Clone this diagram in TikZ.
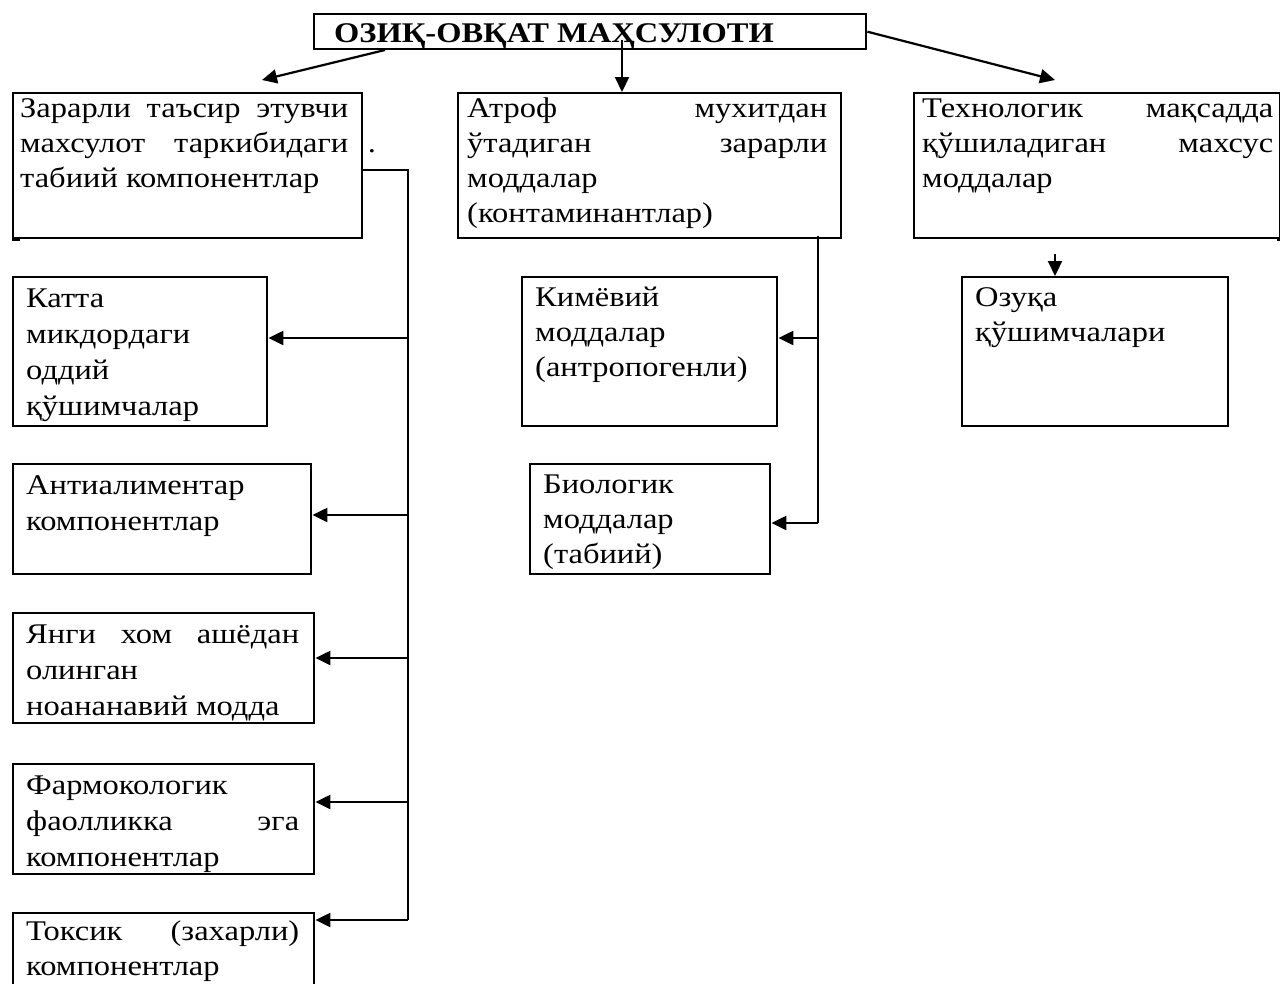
\documentclass[tikz,border=0pt]{standalone}
\usepackage{fontspec}
\setmainfont[FakeStretch=1.14]{Liberation Serif}
\usetikzlibrary{arrows.meta}
\newcommand\gp{\hskip 0pt plus 1filll\relax}
% width, height, left pad, right pad, top shift, text
\newcommand\bxt[6]{\parbox[c][#2][t]{#1}{\leftskip=#3\rightskip=#4\relax\vspace*{#5}\strut#6}}
\tikzset{
  box/.style={draw, line width=2.4pt, inner sep=0pt, anchor=north west,
    font=\fontsize{28.5}{35}\selectfont},
  tallbox/.style={box, font=\fontsize{28.5}{36}\selectfont},
  arr/.style={line width=2.2pt, -{Triangle[length=15pt,width=14pt]}},
  trunk/.style={line width=1.6pt},
}
\begin{document}
\begin{tikzpicture}[x=1pt,y=-1pt]
\useasboundingbox (0,0) rectangle (1280,983);
\clip (0,0) rectangle (1280,983);
% title
\node[box, font=\fontsize{28.5}{35}\bfseries\selectfont] (T) at (313,13)
  {\bxt{552pt}{35pt}{20pt}{0pt}{0pt}{\raisebox{-4pt}{ОЗИҚ-ОВҚАТ МАҲСУЛОТИ}}};
% top row
\node[box] (A) at (12,92) {\bxt{349pt}{145pt}{7pt}{14pt}{0pt}{Зарарли\gp таъсир\gp этувчи\\махсулот\gp таркибидаги\\табиий компонентлар}};
\node[box] (B) at (457,92) {\bxt{383pt}{145pt}{9pt}{14pt}{0pt}{Атроф\gp мухитдан\\ўтадиган\gp зарарли\\моддалар\\(контаминантлар)}};
\node[box] (C) at (913,92) {\bxt{366pt}{145pt}{8pt}{7pt}{0pt}{Технологик\gp мақсадда\\қўшиладиган\gp махсус\\моддалар}};
\node[font=\fontsize{28.5}{35}\selectfont, anchor=base] (dot) at (372,152) {.};
% left column
\node[tallbox] (D) at (12,276) {\bxt{254pt}{149pt}{13pt}{5pt}{5pt}{Катта\\микдордаги\\оддий\\қўшимчалар}};
\node[tallbox] (E) at (12,463) {\bxt{298pt}{110pt}{13pt}{10pt}{5pt}{Антиалиментар\\компонентлар}};
\node[tallbox] (F) at (12,612) {\bxt{301pt}{110pt}{13pt}{15pt}{5pt}{Янги\gp хом\gp ашёдан\\олинган\\ноананавий модда}};
\node[tallbox] (G) at (12,763) {\bxt{301pt}{110pt}{13pt}{15pt}{5pt}{Фармокологик\\фаолликка\gp эга\\компонентлар}};
\node[box] (H) at (12,912) {\bxt{301pt}{100pt}{13pt}{15pt}{3pt}{Токсик\gp (захарли)\\компонентлар}};
% middle column
\node[box] (I) at (521,276) {\bxt{255pt}{149pt}{13pt}{4pt}{5pt}{Кимёвий\\моддалар\\(антропогенли)}};
\node[box] (J) at (529,463) {\bxt{240pt}{110pt}{13pt}{4pt}{5pt}{Биологик\\моддалар\\(табиий)}};
% right column
\node[box] (K) at (961,276) {\bxt{266pt}{149pt}{13pt}{4pt}{5pt}{Озуқа\\қўшимчалари}};
% small ticks
\draw[line width=3pt] (A.south west) -- ++(8,0);
\draw[line width=3pt] (C.south east) -- ++(-4,0);
% connectors from title
\coordinate (t1) at (385,50);
\coordinate (t2) at (622,40);
\draw[arr] (t1) -- (262,80) coordinate (a1);
\draw[arr] (t2) -- (t2 |- B.north);
\draw[arr] (T.east) -- (1055,80) coordinate (c1);
% left trunk
\coordinate (lt) at (408,170);
\coordinate (lb) at (408,920);
\draw[trunk] (lt -| A.east) -- (lt) -- (lb);
\draw[arr] (408,338) -- (D.east |- 0,338);
\draw[arr] (408,515) -- (E.east |- 0,515);
\draw[arr] (408,658) -- (F.east |- 0,658);
\draw[arr] (408,802) -- (G.east |- 0,802);
\draw[arr] (lb) -- (H.east |- lb);
% middle trunk
\coordinate (mt) at (818,236);
\coordinate (mb) at (818,523);
\draw[trunk] (mt) -- (mb);
\draw[arr] (818,338) -- (I.east |- 0,338);
\draw[arr] (mb) -- (J.east |- mb);
% right
\coordinate (rt) at (1055,254);
\draw[arr] (rt) -- (rt |- K.north);
\end{tikzpicture}
\end{document}
